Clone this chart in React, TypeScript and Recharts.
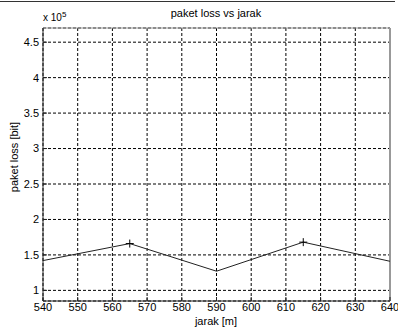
import { LineChart, Line, XAxis, YAxis, CartesianGrid, ReferenceLine } from "recharts";

const jarak = [540, 565, 590, 615, 640];
const paketLoss = [142000, 166000, 127000, 168000, 141000];
const marked = [565, 615];
const xTicks = [540, 550, 560, 570, 580, 590, 600, 610, 620, 630, 640];
const yTicks = [100000, 150000, 200000, 250000, 300000, 350000, 400000, 450000];

const data = jarak.map((x, i) => ({ jarak: x, loss: paketLoss[i] }));

const font = "'Liberation Sans', Arial, sans-serif";

const PlusDot = (props: any) => {
  const { cx, cy, payload } = props;
  if (!marked.includes(payload.jarak)) return <g key={`d-${payload.jarak}`} />;
  return (
    <g key={`d-${payload.jarak}`} stroke="#000" strokeWidth={1}>
      <line x1={cx - 4} y1={cy} x2={cx + 4} y2={cy} />
      <line x1={cx} y1={cy - 4} x2={cx} y2={cy + 4} />
    </g>
  );
};

export default function App() {
  return (
    <div style={{ position: "absolute", left: 0, top: 0, width: 398, height: 329, background: "#fff", fontFamily: font }}>
      <div style={{ position: "absolute", left: 0, top: 1, width: 395, height: 1, background: "#333" }} />
      <div style={{ position: "absolute", left: 116, width: 200, top: 7, textAlign: "center", fontSize: 11, color: "#000" }}>
        paket loss vs jarak
      </div>
      <div style={{ position: "absolute", left: 43, top: 10, fontSize: 10, color: "#000" }}>
        x 10<sup style={{ fontSize: 8 }}>5</sup>
      </div>
      <div
        style={{
          position: "absolute",
          left: 14,
          top: 157,
          fontSize: 11,
          transform: "translate(-50%, -50%) rotate(-90deg)",
          whiteSpace: "nowrap",
        }}
      >
        paket loss [bit]
      </div>
      <div style={{ position: "absolute", left: 166, width: 100, top: 315, textAlign: "center", fontSize: 11, lineHeight: "13px" }}>
        jarak [m]
      </div>
      <LineChart
        width={398}
        height={329}
        data={data}
        margin={{ top: 28, right: 8, bottom: 0, left: 0 }}
        style={{ position: "absolute", left: 0, top: 0 }}
      >
        <CartesianGrid stroke="#000" strokeDasharray="3 2" strokeWidth={1} />
        <XAxis
          dataKey="jarak"
          type="number"
          domain={[540, 640]}
          ticks={xTicks}
          interval={0}
          tickSize={-4}
          tickMargin={6}
          stroke="#222"
          tick={{ fill: "#000", fontSize: 11, fontFamily: font }}
          height={28}
        />
        <YAxis
          type="number"
          domain={[85000, 470000]}
          ticks={yTicks}
          interval={0}
          tickSize={-4}
          tickMargin={8}
          stroke="#222"
          width={43}
          tickFormatter={(v: number) => String(v / 100000)}
          tick={{ fill: "#000", fontSize: 11, fontFamily: font }}
        />
        <ReferenceLine x={640} stroke="#999" strokeWidth={2} />
        <ReferenceLine y={470000} stroke="#999" strokeWidth={1} />
        <Line
          dataKey="loss"
          stroke="#222"
          strokeWidth={1}
          dot={PlusDot}
          activeDot={false}
          isAnimationActive={false}
        />
      </LineChart>
    </div>
  );
}
